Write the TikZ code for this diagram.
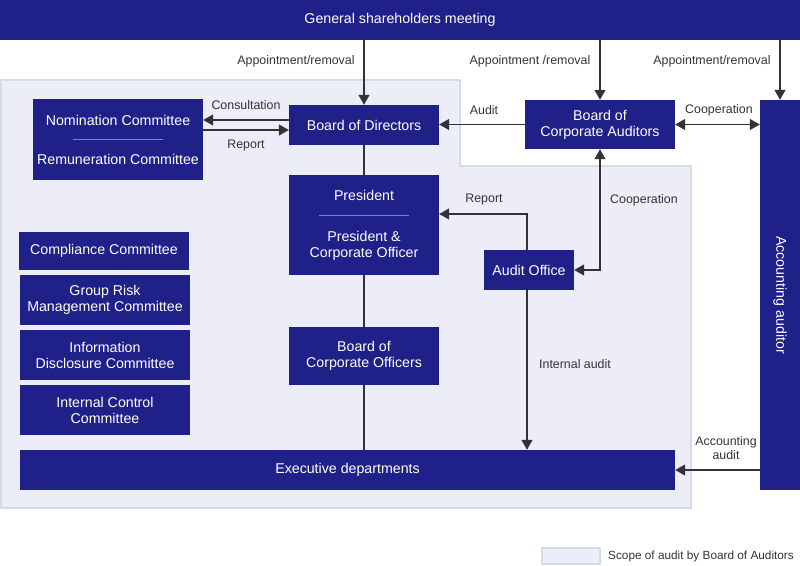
\documentclass[tikz,border=0pt]{standalone}
\usepackage{fontspec}
\setmainfont{Liberation Sans}
\usetikzlibrary{arrows.meta}
\definecolor{navy}{HTML}{1F2088}
\definecolor{zonefill}{HTML}{ECEDF6}
\definecolor{zoneline}{HTML}{D3DDE7}
\definecolor{linegray}{HTML}{333333}
\definecolor{divblue}{HTML}{7C82D6}

\begin{document}
\begin{tikzpicture}[x=1pt,y=-1pt,
  box/.style={fill=navy, text=white, inner sep=0pt, align=center, font=\fontsize{14.2}{16}\selectfont},
  lbl/.style={text=linegray, inner sep=0pt, align=center, font=\fontsize{12.4}{14}\selectfont},
  arr/.style={draw=linegray, line width=1.2pt, -{Triangle[length=10pt,width=11pt]}},
  dbl/.style={draw=linegray, line width=1.2pt, {Triangle[length=10pt,width=11pt]}-{Triangle[length=10pt,width=11pt]}},
  link/.style={draw=linegray, line width=1.2pt},
  auditzone/.style={fill=zonefill, draw=zoneline, line width=2pt},
  divider/.style={draw=divblue, line width=0.8pt}]
  \useasboundingbox (0,0) rectangle (800,565);

  % Scope of audit
  \draw[auditzone] (1,80) -- (460,80) -- (460,166) -- (691,166) -- (691,508) -- (1,508) -- cycle;

  % Shareholders meeting
  \node[box, minimum width=800pt, minimum height=40pt] (gsm) at (400,20) {General shareholders meeting};

  % Boards
  \node[box, minimum width=150pt, minimum height=40pt] (bod) at (364,125) {Board of Directors};
  \node[box, minimum width=150pt, minimum height=49pt] (bca) at (600,124.5) {Board of\\Corporate Auditors};
  \node[box, minimum width=40pt, minimum height=390pt] (acct) at (780,295) {\rotatebox{-90}{Accounting auditor}};

  % Committees
  \node[box, minimum width=170pt, minimum height=81pt] (nomi) at (118,139.5) {Nomination Committee\\[23pt]Remuneration Committee};
  \draw[divider] ([xshift=-45pt]nomi.center) -- ([xshift=45pt]nomi.center);
  \node[box, minimum width=170pt, minimum height=38pt] (comp) at (104,251) {Compliance Committee};
  \node[box, minimum width=170pt, minimum height=50pt] (risk) at (105,300) {Group Risk\\Management Committee};
  \node[box, minimum width=170pt, minimum height=50pt] (info) at (105,355) {Information\\Disclosure Committee};
  \node[box, minimum width=170pt, minimum height=50pt] (ictl) at (105,410) {Internal Control\\Committee};

  % Executive line
  \node[box, minimum width=150pt, minimum height=100pt] (pres) at (364,225) {President\\[25pt]President \&\\Corporate Officer};
  \draw[divider] ([xshift=-45pt,yshift=10pt]pres.center) -- ([xshift=45pt,yshift=10pt]pres.center);
  \node[box, minimum width=150pt, minimum height=58pt] (bco) at (364,356) {Board of\\Corporate Officers};
  \node[box, minimum width=655pt, minimum height=40pt] (exec) at (347.5,470) {Executive departments};
  \node[box, minimum width=90pt, minimum height=40pt] (aoff) at (529,270) {Audit Office};

  % Appointment arrows
  \draw[arr] (gsm.south -| bod.north) -- (bod.north);
  \draw[arr] (gsm.south -| bca.north) -- (bca.north);
  \draw[arr] (gsm.south -| acct.north) -- (acct.north);
  \node[lbl] (app1) at (296,61) {Appointment/removal};
  \node[lbl] (app2) at (530,61) {Appointment /removal};
  \node[lbl] (app3) at (712,61) {Appointment/removal};

  % Consultation and report
  \draw[arr] ([yshift=5pt]bod.west) -- ([yshift=5pt]bod.west -| nomi.east);
  \draw[arr] ([yshift=-5pt]bod.west -| nomi.east) -- ([yshift=-5pt]bod.west);
  \node[lbl] (cons) at (246,105) {Consultation};
  \node[lbl] (rep1) at (246,146) {Report};

  % Audit and cooperation
  \draw[arr] (bca.west) -- (bca.west -| bod.east);
  \node[lbl] (aud) at (484,110) {Audit};
  \draw[dbl] (bca.east) -- (bca.east -| acct.west);
  \node[lbl] (coop1) at (719,110) {Cooperation};
  \draw[dbl] (bca.south) |- (aoff.east);
  \node[lbl] (coop2) at (644,200) {Cooperation};
  \draw[arr] ([xshift=-2pt]aoff.north) |- ([yshift=11pt]pres.east);
  \node[lbl] (rep2) at (484,200) {Report};

  % Line of command
  \draw[link] (bod.south) -- (pres.north);
  \draw[link] (pres.south) -- (bco.north);
  \draw[link] (bco.south) -- (bco.south |- exec.north);

  % Internal and accounting audit
  \draw[arr] ([xshift=-2pt]aoff.south) -- ([xshift=-2pt]aoff.south |- exec.north);
  \node[lbl] (intl) at (575,364) {Internal audit};
  \draw[arr] (acct.west |- exec.east) -- (exec.east);
  \node[lbl] (acca) at (726,448) {Accounting\\audit};

  % Legend
  \draw[auditzone] (542,548) rectangle (600,564);
  \node[lbl, anchor=west, font=\fontsize{11.8}{14}\selectfont] (lgd) at (608,556) {Scope of audit by Board of Auditors};
\end{tikzpicture}
\end{document}
